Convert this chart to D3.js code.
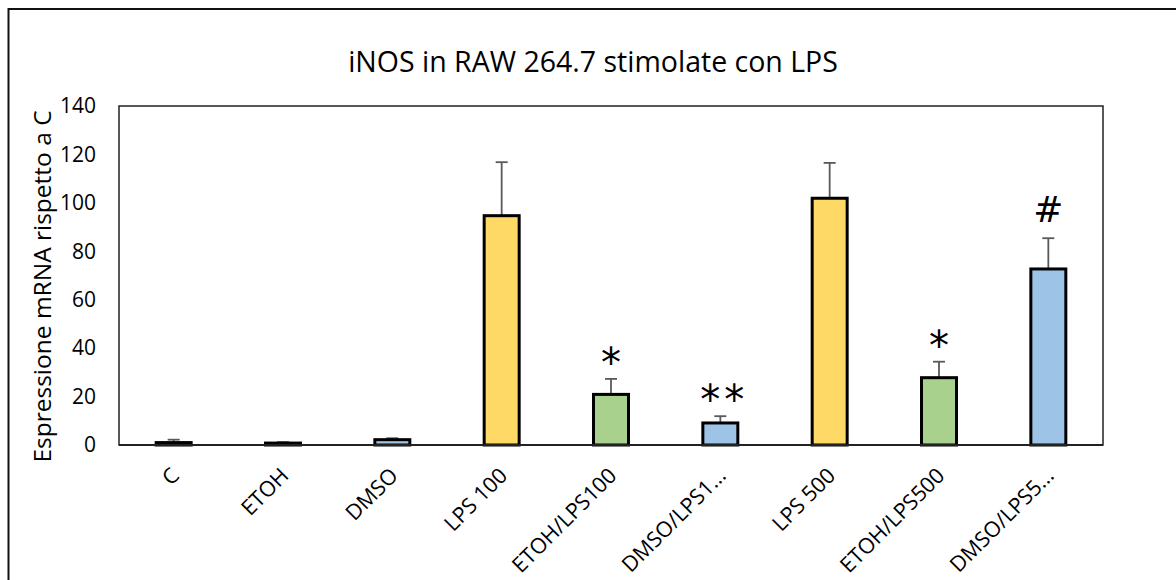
<!DOCTYPE html>
<html>
<head>
<meta charset="utf-8">
<script src="https://cdn.jsdelivr.net/npm/d3@7"></script>
<style>
  body { margin: 0; background: #fff; }
  svg { display: block; font-family: 'Open Sans', 'Noto Sans', sans-serif; }
</style>
</head>
<body>
<div id="chart"></div>
<script>
const categories = ['C', 'ETOH', 'DMSO', 'LPS 100', 'ETOH/LPS100', 'DMSO/LPS1...', 'LPS 500', 'ETOH/LPS500', 'DMSO/LPS5...'];
const values = [1.0, 0.8, 2.2, 94.7, 20.9, 9.1, 101.9, 27.8, 72.7];
const errors = [1.2, 0.4, 0.6, 22.1, 6.4, 2.8, 14.6, 6.6, 12.7];
const barColors = ['#FFD966', '#FFD966', '#9DC3E6', '#FFD966', '#A9D18E', '#9DC3E6', '#FFD966', '#A9D18E', '#9DC3E6'];
const marks = ['', '', '', '', '*', '**', '', '*', '#'];
const yTicks = [0, 20, 40, 60, 80, 100, 120, 140];

const width = 1176;
const height = 580;
const margin = { top: 106, right: 73, bottom: 135, left: 119 };

const svg = d3.select('#chart')
  .append('svg')
  .attr('width', width)
  .attr('height', height);

// outer chart frame (runs off the right and bottom edges)
svg.append('rect')
  .attr('x', 8.5)
  .attr('y', 9)
  .attr('width', 1200)
  .attr('height', 700)
  .attr('fill', 'none')
  .attr('stroke', '#111')
  .attr('stroke-width', 2);

const x = d3.scaleBand()
  .domain(categories)
  .range([margin.left, width - margin.right])
  .paddingInner(0.68)
  .paddingOuter(0.34);

const y = d3.scaleLinear()
  .domain([0, 140])
  .range([height - margin.bottom, margin.top]);

// plot area border
svg.append('rect')
  .attr('x', margin.left)
  .attr('y', margin.top)
  .attr('width', width - margin.left - margin.right)
  .attr('height', height - margin.top - margin.bottom)
  .attr('fill', 'none')
  .attr('stroke', '#222')
  .attr('stroke-width', 1.5);

// y axis labels
svg.append('g')
  .attr('transform', `translate(${margin.left},0)`)
  .call(d3.axisLeft(y).tickValues(yTicks).tickSize(0).tickPadding(23))
  .call((g) => g.select('.domain').remove())
  .selectAll('text')
  .attr('font-size', 21)
  .attr('font-family', "'Open Sans', sans-serif")
  .attr('fill', '#000');

const data = categories.map((c, i) => ({
  cat: c, value: values[i], err: errors[i], color: barColors[i], mark: marks[i],
}));

// error bars (plus only)
const eb = svg.append('g').attr('stroke', '#595959').attr('stroke-width', 1.8);
data.forEach((d) => {
  const cx = x(d.cat) + x.bandwidth() / 2;
  eb.append('line')
    .attr('x1', cx).attr('x2', cx)
    .attr('y1', y(d.value)).attr('y2', y(d.value + d.err));
  eb.append('line')
    .attr('x1', cx - 6).attr('x2', cx + 6)
    .attr('y1', y(d.value + d.err)).attr('y2', y(d.value + d.err));
});

// bars
svg.append('g')
  .selectAll('rect')
  .data(data)
  .enter()
  .append('rect')
  .attr('x', (d) => x(d.cat))
  .attr('y', (d) => y(d.value))
  .attr('width', x.bandwidth())
  .attr('height', (d) => y(0) - y(d.value))
  .attr('fill', (d) => d.color)
  .attr('stroke', '#000')
  .attr('stroke-width', 3);

// baseline
svg.append('line')
  .attr('x1', margin.left).attr('x2', width - margin.right)
  .attr('y1', y(0)).attr('y2', y(0))
  .attr('stroke', '#222')
  .attr('stroke-width', 2);

// significance marks
svg.append('g')
  .selectAll('text')
  .data(data.filter((d) => d.mark))
  .enter()
  .append('text')
  .attr('x', (d) => x(d.cat) + x.bandwidth() / 2 + (d.mark === '**' ? 4 : 0))
  .attr('y', (d) => y(d.value + d.err) - (d.mark === '#' ? 16 : 2))
  .attr('text-anchor', 'middle')
  .attr('font-size', (d) => (d.mark === '#' ? 36 : 40))
  .attr('font-family', "'DejaVu Sans', sans-serif")
  .attr('letter-spacing', (d) => (d.mark === '**' ? 4 : 0))
  .attr('fill', '#000')
  .text((d) => d.mark);

// x category labels, rotated
svg.append('g')
  .selectAll('text')
  .data(categories)
  .enter()
  .append('text')
  .attr('transform', (d) => `translate(${x(d) + x.bandwidth() / 2 + 7},${y(0) + 32}) rotate(-45)`)
  .attr('text-anchor', 'end')
  .attr('font-size', 21.5)
  .attr('fill', '#000')
  .text((d) => d);

// y axis title
svg.append('text')
  .attr('transform', `translate(51,${(margin.top + height - margin.bottom) / 2 + 11}) rotate(-90)`)
  .attr('text-anchor', 'middle')
  .attr('font-size', 24.5)
  .attr('fill', '#000')
  .text('Espressione mRNA rispetto a C');

// chart title
svg.append('text')
  .attr('x', 593)
  .attr('y', 72)
  .attr('text-anchor', 'middle')
  .attr('font-size', 28.5)
  .attr('fill', '#000')
  .text('iNOS in RAW 264.7 stimolate con LPS');
</script>
</body>
</html>
